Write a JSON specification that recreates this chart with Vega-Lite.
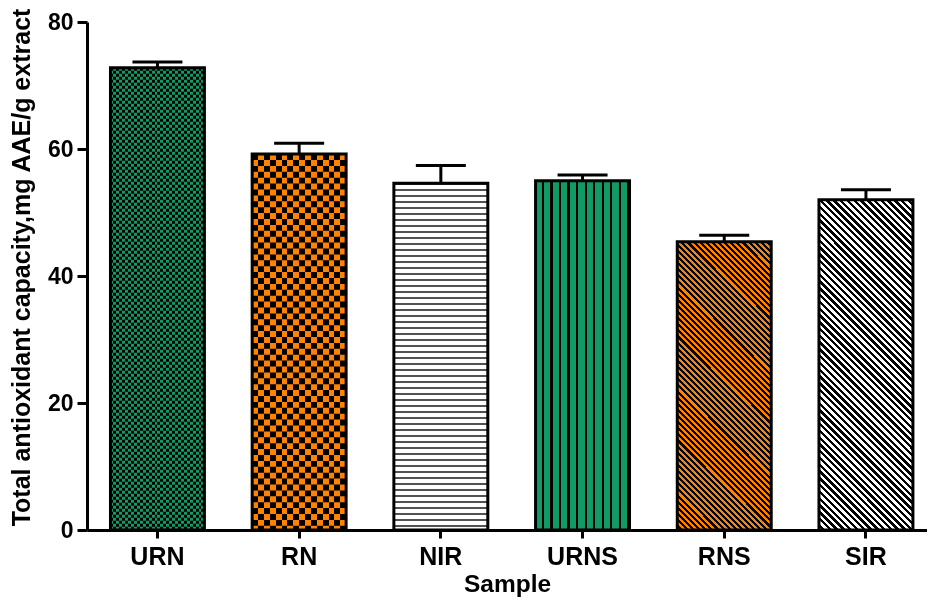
{
"$schema": "https://vega.github.io/schema/vega-lite/v6.json",
"width": 840, "height": 508,
"autosize": {"type": "none"},
"padding": {"left": 87, "top": 22, "right": 0, "bottom": 67},
"background": "white",
"config": {"view": {"stroke": null}, "font": "Liberation Sans"},
"data": {"values": [
{"sample": "URN", "mean": 72.8, "upper": 73.7},
{"sample": "RN", "mean": 59.2, "upper": 60.9},
{"sample": "NIR", "mean": 54.6, "upper": 57.4},
{"sample": "URNS", "mean": 55.0, "upper": 55.9},
{"sample": "RNS", "mean": 45.4, "upper": 46.4},
{"sample": "SIR", "mean": 52.0, "upper": 53.6}
]},
"encoding": {
"x": {"field": "sample", "type": "nominal", "sort": null, "title": "Sample",
 "scale": {"domain": ["URN", "RN", "NIR", "URNS", "RNS", "SIR"], "paddingInner": 0.337, "paddingOuter": 0.1325, "align": 0.625, "round": false},
 "axis": {"labelFont": "Liberation Sans", "labelFontSize": 25, "labelFontWeight": "bold", "labelColor": "black", "labelAngle": 0, "labelPadding": 6, "tickSize": 8, "tickWidth": 3, "tickColor": "black", "domainColor": "black", "domainWidth": 3, "titleFont": "Liberation Sans", "titleFontSize": 24.5, "titleFontWeight": "bold", "titleColor": "black", "titlePadding": 3, "grid": false}},
"y": {"field": "mean", "type": "quantitative", "title": "Total antioxidant capacity,mg AAE/g extract",
 "scale": {"domain": [0, 80], "nice": false},
 "axis": {"values": [0, 20, 40, 60, 80], "labelFont": "Liberation Sans", "labelFontSize": 23, "labelFontWeight": "bold", "labelColor": "black", "labelPadding": 4, "tickSize": 10, "tickWidth": 3, "tickColor": "black", "domainColor": "black", "domainWidth": 3, "titleFont": "Liberation Sans", "titleFontSize": 25, "titleFontWeight": "bold", "titleColor": "black", "titlePadding": 13, "titleY": 245, "grid": false}}
},
"layer": [
{"transform": [{"filter": "datum.sample === 'URN'"}],
 "mark": {"type": "bar", "fill": {"gradient": "linear", "x1": 0, "y1": 0, "x2": 1, "y2": 0, "stops": [
{"offset":0,"color":"#109a64"},{"offset":0.03125,"color":"#109a64"},{"offset":0.03125,"color":"#000"},{"offset":0.0625,"color":"#000"},
{"offset":0.0625,"color":"#109a64"},{"offset":0.09375,"color":"#109a64"},{"offset":0.09375,"color":"#000"},{"offset":0.125,"color":"#000"},
{"offset":0.125,"color":"#109a64"},{"offset":0.15625,"color":"#109a64"},{"offset":0.15625,"color":"#000"},{"offset":0.1875,"color":"#000"},
{"offset":0.1875,"color":"#109a64"},{"offset":0.21875,"color":"#109a64"},{"offset":0.21875,"color":"#000"},{"offset":0.25,"color":"#000"},
{"offset":0.25,"color":"#109a64"},{"offset":0.28125,"color":"#109a64"},{"offset":0.28125,"color":"#000"},{"offset":0.3125,"color":"#000"},
{"offset":0.3125,"color":"#109a64"},{"offset":0.34375,"color":"#109a64"},{"offset":0.34375,"color":"#000"},{"offset":0.375,"color":"#000"},
{"offset":0.375,"color":"#109a64"},{"offset":0.40625,"color":"#109a64"},{"offset":0.40625,"color":"#000"},{"offset":0.4375,"color":"#000"},
{"offset":0.4375,"color":"#109a64"},{"offset":0.46875,"color":"#109a64"},{"offset":0.46875,"color":"#000"},{"offset":0.5,"color":"#000"},
{"offset":0.5,"color":"#109a64"},{"offset":0.53125,"color":"#109a64"},{"offset":0.53125,"color":"#000"},{"offset":0.5625,"color":"#000"},
{"offset":0.5625,"color":"#109a64"},{"offset":0.59375,"color":"#109a64"},{"offset":0.59375,"color":"#000"},{"offset":0.625,"color":"#000"},
{"offset":0.625,"color":"#109a64"},{"offset":0.65625,"color":"#109a64"},{"offset":0.65625,"color":"#000"},{"offset":0.6875,"color":"#000"},
{"offset":0.6875,"color":"#109a64"},{"offset":0.71875,"color":"#109a64"},{"offset":0.71875,"color":"#000"},{"offset":0.75,"color":"#000"},
{"offset":0.75,"color":"#109a64"},{"offset":0.78125,"color":"#109a64"},{"offset":0.78125,"color":"#000"},{"offset":0.8125,"color":"#000"},
{"offset":0.8125,"color":"#109a64"},{"offset":0.84375,"color":"#109a64"},{"offset":0.84375,"color":"#000"},{"offset":0.875,"color":"#000"},
{"offset":0.875,"color":"#109a64"},{"offset":0.90625,"color":"#109a64"},{"offset":0.90625,"color":"#000"},{"offset":0.9375,"color":"#000"},
{"offset":0.9375,"color":"#109a64"},{"offset":0.96875,"color":"#109a64"},{"offset":0.96875,"color":"#000"},{"offset":1,"color":"#000"}
 ]}}},
{"transform": [{"filter": "datum.sample === 'URN'"}],
 "mark": {"type": "rule", "stroke": "#109a64", "strokeWidth": 94, "strokeDash": [3, 3], "blend": "difference"},
 "encoding": {"y2": {"datum": 0}}},
{"transform": [{"filter": "datum.sample === 'RN'"}],
 "mark": {"type": "bar", "fill": {"gradient": "linear", "x1": 0, "y1": 0, "x2": 1, "y2": 0, "stops": [
{"offset":0,"color":"#ff8200"},{"offset":0.0625,"color":"#ff8200"},{"offset":0.0625,"color":"#000"},{"offset":0.125,"color":"#000"},
{"offset":0.125,"color":"#ff8200"},{"offset":0.1875,"color":"#ff8200"},{"offset":0.1875,"color":"#000"},{"offset":0.25,"color":"#000"},
{"offset":0.25,"color":"#ff8200"},{"offset":0.3125,"color":"#ff8200"},{"offset":0.3125,"color":"#000"},{"offset":0.375,"color":"#000"},
{"offset":0.375,"color":"#ff8200"},{"offset":0.4375,"color":"#ff8200"},{"offset":0.4375,"color":"#000"},{"offset":0.5,"color":"#000"},
{"offset":0.5,"color":"#ff8200"},{"offset":0.5625,"color":"#ff8200"},{"offset":0.5625,"color":"#000"},{"offset":0.625,"color":"#000"},
{"offset":0.625,"color":"#ff8200"},{"offset":0.6875,"color":"#ff8200"},{"offset":0.6875,"color":"#000"},{"offset":0.75,"color":"#000"},
{"offset":0.75,"color":"#ff8200"},{"offset":0.8125,"color":"#ff8200"},{"offset":0.8125,"color":"#000"},{"offset":0.875,"color":"#000"},
{"offset":0.875,"color":"#ff8200"},{"offset":0.9375,"color":"#ff8200"},{"offset":0.9375,"color":"#000"},{"offset":1,"color":"#000"}
 ]}}},
{"transform": [{"filter": "datum.sample === 'RN'"}],
 "mark": {"type": "rule", "stroke": "#ff8200", "strokeWidth": 94, "strokeDash": [5.9, 5.9], "blend": "difference"},
 "encoding": {"y2": {"datum": 0}}},
{"transform": [{"filter": "datum.sample === 'NIR'"}],
 "mark": {"type": "bar", "fill": "white"}},
{"transform": [{"filter": "datum.sample === 'NIR'"}],
 "mark": {"type": "rule", "stroke": "#1a1a1a", "strokeWidth": 94, "strokeDash": [1.5, 4.5]},
 "encoding": {"y2": {"datum": 0}}},
{"transform": [{"filter": "datum.sample === 'URNS'"}],
 "mark": {"type": "bar", "fill": {"gradient": "linear", "x1": 0, "y1": 0, "x2": 1, "y2": 0, "stops": [
{"offset":0,"color":"#109a64"},{"offset":0.0664,"color":"#109a64"},{"offset":0.0664,"color":"#000"},{"offset":0.0909,"color":"#000"},
{"offset":0.0909,"color":"#109a64"},{"offset":0.1573,"color":"#109a64"},{"offset":0.1573,"color":"#000"},{"offset":0.1818,"color":"#000"},
{"offset":0.1818,"color":"#109a64"},{"offset":0.2482,"color":"#109a64"},{"offset":0.2482,"color":"#000"},{"offset":0.2727,"color":"#000"},
{"offset":0.2727,"color":"#109a64"},{"offset":0.3391,"color":"#109a64"},{"offset":0.3391,"color":"#000"},{"offset":0.3636,"color":"#000"},
{"offset":0.3636,"color":"#109a64"},{"offset":0.43,"color":"#109a64"},{"offset":0.43,"color":"#000"},{"offset":0.4545,"color":"#000"},
{"offset":0.4545,"color":"#109a64"},{"offset":0.5209,"color":"#109a64"},{"offset":0.5209,"color":"#000"},{"offset":0.5455,"color":"#000"},
{"offset":0.5455,"color":"#109a64"},{"offset":0.6119,"color":"#109a64"},{"offset":0.6119,"color":"#000"},{"offset":0.6364,"color":"#000"},
{"offset":0.6364,"color":"#109a64"},{"offset":0.7028,"color":"#109a64"},{"offset":0.7028,"color":"#000"},{"offset":0.7273,"color":"#000"},
{"offset":0.7273,"color":"#109a64"},{"offset":0.7937,"color":"#109a64"},{"offset":0.7937,"color":"#000"},{"offset":0.8182,"color":"#000"},
{"offset":0.8182,"color":"#109a64"},{"offset":0.8846,"color":"#109a64"},{"offset":0.8846,"color":"#000"},{"offset":0.9091,"color":"#000"},
{"offset":0.9091,"color":"#109a64"},{"offset":0.9755,"color":"#109a64"},{"offset":0.9755,"color":"#000"},{"offset":1,"color":"#000"}
 ]}}},
{"transform": [{"filter": "datum.sample === 'RNS'"}],
 "mark": {"type": "bar", "fill": {"gradient": "linear", "x1": 0, "y1": 1, "x2": 0.3912, "y2": -0.1987, "stops": [
{"offset":0,"color":"#ff8200"},{"offset":0.008,"color":"#ff8200"},{"offset":0.008,"color":"#000"},{"offset":0.016,"color":"#000"},
{"offset":0.016,"color":"#ff8200"},{"offset":0.024,"color":"#ff8200"},{"offset":0.024,"color":"#000"},{"offset":0.032,"color":"#000"},
{"offset":0.032,"color":"#ff8200"},{"offset":0.04,"color":"#ff8200"},{"offset":0.04,"color":"#000"},{"offset":0.048,"color":"#000"},
{"offset":0.048,"color":"#ff8200"},{"offset":0.056,"color":"#ff8200"},{"offset":0.056,"color":"#000"},{"offset":0.064,"color":"#000"},
{"offset":0.064,"color":"#ff8200"},{"offset":0.072,"color":"#ff8200"},{"offset":0.072,"color":"#000"},{"offset":0.08,"color":"#000"},
{"offset":0.08,"color":"#ff8200"},{"offset":0.088,"color":"#ff8200"},{"offset":0.088,"color":"#000"},{"offset":0.096,"color":"#000"},
{"offset":0.096,"color":"#ff8200"},{"offset":0.104,"color":"#ff8200"},{"offset":0.104,"color":"#000"},{"offset":0.112,"color":"#000"},
{"offset":0.112,"color":"#ff8200"},{"offset":0.12,"color":"#ff8200"},{"offset":0.12,"color":"#000"},{"offset":0.128,"color":"#000"},
{"offset":0.128,"color":"#ff8200"},{"offset":0.136,"color":"#ff8200"},{"offset":0.136,"color":"#000"},{"offset":0.144,"color":"#000"},
{"offset":0.144,"color":"#ff8200"},{"offset":0.152,"color":"#ff8200"},{"offset":0.152,"color":"#000"},{"offset":0.16,"color":"#000"},
{"offset":0.16,"color":"#ff8200"},{"offset":0.168,"color":"#ff8200"},{"offset":0.168,"color":"#000"},{"offset":0.176,"color":"#000"},
{"offset":0.176,"color":"#ff8200"},{"offset":0.184,"color":"#ff8200"},{"offset":0.184,"color":"#000"},{"offset":0.192,"color":"#000"},
{"offset":0.192,"color":"#ff8200"},{"offset":0.2,"color":"#ff8200"},{"offset":0.2,"color":"#000"},{"offset":0.208,"color":"#000"},
{"offset":0.208,"color":"#ff8200"},{"offset":0.216,"color":"#ff8200"},{"offset":0.216,"color":"#000"},{"offset":0.224,"color":"#000"},
{"offset":0.224,"color":"#ff8200"},{"offset":0.232,"color":"#ff8200"},{"offset":0.232,"color":"#000"},{"offset":0.24,"color":"#000"},
{"offset":0.24,"color":"#ff8200"},{"offset":0.248,"color":"#ff8200"},{"offset":0.248,"color":"#000"},{"offset":0.256,"color":"#000"},
{"offset":0.256,"color":"#ff8200"},{"offset":0.264,"color":"#ff8200"},{"offset":0.264,"color":"#000"},{"offset":0.272,"color":"#000"},
{"offset":0.272,"color":"#ff8200"},{"offset":0.28,"color":"#ff8200"},{"offset":0.28,"color":"#000"},{"offset":0.288,"color":"#000"},
{"offset":0.288,"color":"#ff8200"},{"offset":0.296,"color":"#ff8200"},{"offset":0.296,"color":"#000"},{"offset":0.304,"color":"#000"},
{"offset":0.304,"color":"#ff8200"},{"offset":0.312,"color":"#ff8200"},{"offset":0.312,"color":"#000"},{"offset":0.32,"color":"#000"},
{"offset":0.32,"color":"#ff8200"},{"offset":0.328,"color":"#ff8200"},{"offset":0.328,"color":"#000"},{"offset":0.336,"color":"#000"},
{"offset":0.336,"color":"#ff8200"},{"offset":0.344,"color":"#ff8200"},{"offset":0.344,"color":"#000"},{"offset":0.352,"color":"#000"},
{"offset":0.352,"color":"#ff8200"},{"offset":0.36,"color":"#ff8200"},{"offset":0.36,"color":"#000"},{"offset":0.368,"color":"#000"},
{"offset":0.368,"color":"#ff8200"},{"offset":0.376,"color":"#ff8200"},{"offset":0.376,"color":"#000"},{"offset":0.384,"color":"#000"},
{"offset":0.384,"color":"#ff8200"},{"offset":0.392,"color":"#ff8200"},{"offset":0.392,"color":"#000"},{"offset":0.4,"color":"#000"},
{"offset":0.4,"color":"#ff8200"},{"offset":0.408,"color":"#ff8200"},{"offset":0.408,"color":"#000"},{"offset":0.416,"color":"#000"},
{"offset":0.416,"color":"#ff8200"},{"offset":0.424,"color":"#ff8200"},{"offset":0.424,"color":"#000"},{"offset":0.432,"color":"#000"},
{"offset":0.432,"color":"#ff8200"},{"offset":0.44,"color":"#ff8200"},{"offset":0.44,"color":"#000"},{"offset":0.448,"color":"#000"},
{"offset":0.448,"color":"#ff8200"},{"offset":0.456,"color":"#ff8200"},{"offset":0.456,"color":"#000"},{"offset":0.464,"color":"#000"},
{"offset":0.464,"color":"#ff8200"},{"offset":0.472,"color":"#ff8200"},{"offset":0.472,"color":"#000"},{"offset":0.48,"color":"#000"},
{"offset":0.48,"color":"#ff8200"},{"offset":0.488,"color":"#ff8200"},{"offset":0.488,"color":"#000"},{"offset":0.496,"color":"#000"},
{"offset":0.496,"color":"#ff8200"},{"offset":0.504,"color":"#ff8200"},{"offset":0.504,"color":"#000"},{"offset":0.512,"color":"#000"},
{"offset":0.512,"color":"#ff8200"},{"offset":0.52,"color":"#ff8200"},{"offset":0.52,"color":"#000"},{"offset":0.528,"color":"#000"},
{"offset":0.528,"color":"#ff8200"},{"offset":0.536,"color":"#ff8200"},{"offset":0.536,"color":"#000"},{"offset":0.544,"color":"#000"},
{"offset":0.544,"color":"#ff8200"},{"offset":0.552,"color":"#ff8200"},{"offset":0.552,"color":"#000"},{"offset":0.56,"color":"#000"},
{"offset":0.56,"color":"#ff8200"},{"offset":0.568,"color":"#ff8200"},{"offset":0.568,"color":"#000"},{"offset":0.576,"color":"#000"},
{"offset":0.576,"color":"#ff8200"},{"offset":0.584,"color":"#ff8200"},{"offset":0.584,"color":"#000"},{"offset":0.592,"color":"#000"},
{"offset":0.592,"color":"#ff8200"},{"offset":0.6,"color":"#ff8200"},{"offset":0.6,"color":"#000"},{"offset":0.608,"color":"#000"},
{"offset":0.608,"color":"#ff8200"},{"offset":0.616,"color":"#ff8200"},{"offset":0.616,"color":"#000"},{"offset":0.624,"color":"#000"},
{"offset":0.624,"color":"#ff8200"},{"offset":0.632,"color":"#ff8200"},{"offset":0.632,"color":"#000"},{"offset":0.64,"color":"#000"},
{"offset":0.64,"color":"#ff8200"},{"offset":0.648,"color":"#ff8200"},{"offset":0.648,"color":"#000"},{"offset":0.656,"color":"#000"},
{"offset":0.656,"color":"#ff8200"},{"offset":0.664,"color":"#ff8200"},{"offset":0.664,"color":"#000"},{"offset":0.672,"color":"#000"},
{"offset":0.672,"color":"#ff8200"},{"offset":0.68,"color":"#ff8200"},{"offset":0.68,"color":"#000"},{"offset":0.688,"color":"#000"},
{"offset":0.688,"color":"#ff8200"},{"offset":0.696,"color":"#ff8200"},{"offset":0.696,"color":"#000"},{"offset":0.704,"color":"#000"},
{"offset":0.704,"color":"#ff8200"},{"offset":0.712,"color":"#ff8200"},{"offset":0.712,"color":"#000"},{"offset":0.72,"color":"#000"},
{"offset":0.72,"color":"#ff8200"},{"offset":0.728,"color":"#ff8200"},{"offset":0.728,"color":"#000"},{"offset":0.736,"color":"#000"},
{"offset":0.736,"color":"#ff8200"},{"offset":0.744,"color":"#ff8200"},{"offset":0.744,"color":"#000"},{"offset":0.752,"color":"#000"},
{"offset":0.752,"color":"#ff8200"},{"offset":0.76,"color":"#ff8200"},{"offset":0.76,"color":"#000"},{"offset":0.768,"color":"#000"},
{"offset":0.768,"color":"#ff8200"},{"offset":0.776,"color":"#ff8200"},{"offset":0.776,"color":"#000"},{"offset":0.784,"color":"#000"},
{"offset":0.784,"color":"#ff8200"},{"offset":0.792,"color":"#ff8200"},{"offset":0.792,"color":"#000"},{"offset":0.8,"color":"#000"},
{"offset":0.8,"color":"#ff8200"},{"offset":0.808,"color":"#ff8200"},{"offset":0.808,"color":"#000"},{"offset":0.816,"color":"#000"},
{"offset":0.816,"color":"#ff8200"},{"offset":0.824,"color":"#ff8200"},{"offset":0.824,"color":"#000"},{"offset":0.832,"color":"#000"},
{"offset":0.832,"color":"#ff8200"},{"offset":0.84,"color":"#ff8200"},{"offset":0.84,"color":"#000"},{"offset":0.848,"color":"#000"},
{"offset":0.848,"color":"#ff8200"},{"offset":0.856,"color":"#ff8200"},{"offset":0.856,"color":"#000"},{"offset":0.864,"color":"#000"},
{"offset":0.864,"color":"#ff8200"},{"offset":0.872,"color":"#ff8200"},{"offset":0.872,"color":"#000"},{"offset":0.88,"color":"#000"},
{"offset":0.88,"color":"#ff8200"},{"offset":0.888,"color":"#ff8200"},{"offset":0.888,"color":"#000"},{"offset":0.896,"color":"#000"},
{"offset":0.896,"color":"#ff8200"},{"offset":0.904,"color":"#ff8200"},{"offset":0.904,"color":"#000"},{"offset":0.912,"color":"#000"},
{"offset":0.912,"color":"#ff8200"},{"offset":0.92,"color":"#ff8200"},{"offset":0.92,"color":"#000"},{"offset":0.928,"color":"#000"},
{"offset":0.928,"color":"#ff8200"},{"offset":0.936,"color":"#ff8200"},{"offset":0.936,"color":"#000"},{"offset":0.944,"color":"#000"},
{"offset":0.944,"color":"#ff8200"},{"offset":0.952,"color":"#ff8200"},{"offset":0.952,"color":"#000"},{"offset":0.96,"color":"#000"},
{"offset":0.96,"color":"#ff8200"},{"offset":0.968,"color":"#ff8200"},{"offset":0.968,"color":"#000"},{"offset":0.976,"color":"#000"},
{"offset":0.976,"color":"#ff8200"},{"offset":0.984,"color":"#ff8200"},{"offset":0.984,"color":"#000"},{"offset":0.992,"color":"#000"},
{"offset":0.992,"color":"#ff8200"},{"offset":1,"color":"#ff8200"}
 ]}}},
{"transform": [{"filter": "datum.sample === 'SIR'"}],
 "mark": {"type": "bar", "fill": {"gradient": "linear", "x1": 0, "y1": 1, "x2": 0.3383, "y2": -0.1884, "stops": [
{"offset":0,"color":"#fff"},{"offset":0.008,"color":"#fff"},{"offset":0.008,"color":"#000"},{"offset":0.016,"color":"#000"},
{"offset":0.016,"color":"#fff"},{"offset":0.024,"color":"#fff"},{"offset":0.024,"color":"#000"},{"offset":0.032,"color":"#000"},
{"offset":0.032,"color":"#fff"},{"offset":0.04,"color":"#fff"},{"offset":0.04,"color":"#000"},{"offset":0.048,"color":"#000"},
{"offset":0.048,"color":"#fff"},{"offset":0.056,"color":"#fff"},{"offset":0.056,"color":"#000"},{"offset":0.064,"color":"#000"},
{"offset":0.064,"color":"#fff"},{"offset":0.072,"color":"#fff"},{"offset":0.072,"color":"#000"},{"offset":0.08,"color":"#000"},
{"offset":0.08,"color":"#fff"},{"offset":0.088,"color":"#fff"},{"offset":0.088,"color":"#000"},{"offset":0.096,"color":"#000"},
{"offset":0.096,"color":"#fff"},{"offset":0.104,"color":"#fff"},{"offset":0.104,"color":"#000"},{"offset":0.112,"color":"#000"},
{"offset":0.112,"color":"#fff"},{"offset":0.12,"color":"#fff"},{"offset":0.12,"color":"#000"},{"offset":0.128,"color":"#000"},
{"offset":0.128,"color":"#fff"},{"offset":0.136,"color":"#fff"},{"offset":0.136,"color":"#000"},{"offset":0.144,"color":"#000"},
{"offset":0.144,"color":"#fff"},{"offset":0.152,"color":"#fff"},{"offset":0.152,"color":"#000"},{"offset":0.16,"color":"#000"},
{"offset":0.16,"color":"#fff"},{"offset":0.168,"color":"#fff"},{"offset":0.168,"color":"#000"},{"offset":0.176,"color":"#000"},
{"offset":0.176,"color":"#fff"},{"offset":0.184,"color":"#fff"},{"offset":0.184,"color":"#000"},{"offset":0.192,"color":"#000"},
{"offset":0.192,"color":"#fff"},{"offset":0.2,"color":"#fff"},{"offset":0.2,"color":"#000"},{"offset":0.208,"color":"#000"},
{"offset":0.208,"color":"#fff"},{"offset":0.216,"color":"#fff"},{"offset":0.216,"color":"#000"},{"offset":0.224,"color":"#000"},
{"offset":0.224,"color":"#fff"},{"offset":0.232,"color":"#fff"},{"offset":0.232,"color":"#000"},{"offset":0.24,"color":"#000"},
{"offset":0.24,"color":"#fff"},{"offset":0.248,"color":"#fff"},{"offset":0.248,"color":"#000"},{"offset":0.256,"color":"#000"},
{"offset":0.256,"color":"#fff"},{"offset":0.264,"color":"#fff"},{"offset":0.264,"color":"#000"},{"offset":0.272,"color":"#000"},
{"offset":0.272,"color":"#fff"},{"offset":0.28,"color":"#fff"},{"offset":0.28,"color":"#000"},{"offset":0.288,"color":"#000"},
{"offset":0.288,"color":"#fff"},{"offset":0.296,"color":"#fff"},{"offset":0.296,"color":"#000"},{"offset":0.304,"color":"#000"},
{"offset":0.304,"color":"#fff"},{"offset":0.312,"color":"#fff"},{"offset":0.312,"color":"#000"},{"offset":0.32,"color":"#000"},
{"offset":0.32,"color":"#fff"},{"offset":0.328,"color":"#fff"},{"offset":0.328,"color":"#000"},{"offset":0.336,"color":"#000"},
{"offset":0.336,"color":"#fff"},{"offset":0.344,"color":"#fff"},{"offset":0.344,"color":"#000"},{"offset":0.352,"color":"#000"},
{"offset":0.352,"color":"#fff"},{"offset":0.36,"color":"#fff"},{"offset":0.36,"color":"#000"},{"offset":0.368,"color":"#000"},
{"offset":0.368,"color":"#fff"},{"offset":0.376,"color":"#fff"},{"offset":0.376,"color":"#000"},{"offset":0.384,"color":"#000"},
{"offset":0.384,"color":"#fff"},{"offset":0.392,"color":"#fff"},{"offset":0.392,"color":"#000"},{"offset":0.4,"color":"#000"},
{"offset":0.4,"color":"#fff"},{"offset":0.408,"color":"#fff"},{"offset":0.408,"color":"#000"},{"offset":0.416,"color":"#000"},
{"offset":0.416,"color":"#fff"},{"offset":0.424,"color":"#fff"},{"offset":0.424,"color":"#000"},{"offset":0.432,"color":"#000"},
{"offset":0.432,"color":"#fff"},{"offset":0.44,"color":"#fff"},{"offset":0.44,"color":"#000"},{"offset":0.448,"color":"#000"},
{"offset":0.448,"color":"#fff"},{"offset":0.456,"color":"#fff"},{"offset":0.456,"color":"#000"},{"offset":0.464,"color":"#000"},
{"offset":0.464,"color":"#fff"},{"offset":0.472,"color":"#fff"},{"offset":0.472,"color":"#000"},{"offset":0.48,"color":"#000"},
{"offset":0.48,"color":"#fff"},{"offset":0.488,"color":"#fff"},{"offset":0.488,"color":"#000"},{"offset":0.496,"color":"#000"},
{"offset":0.496,"color":"#fff"},{"offset":0.504,"color":"#fff"},{"offset":0.504,"color":"#000"},{"offset":0.512,"color":"#000"},
{"offset":0.512,"color":"#fff"},{"offset":0.52,"color":"#fff"},{"offset":0.52,"color":"#000"},{"offset":0.528,"color":"#000"},
{"offset":0.528,"color":"#fff"},{"offset":0.536,"color":"#fff"},{"offset":0.536,"color":"#000"},{"offset":0.544,"color":"#000"},
{"offset":0.544,"color":"#fff"},{"offset":0.552,"color":"#fff"},{"offset":0.552,"color":"#000"},{"offset":0.56,"color":"#000"},
{"offset":0.56,"color":"#fff"},{"offset":0.568,"color":"#fff"},{"offset":0.568,"color":"#000"},{"offset":0.576,"color":"#000"},
{"offset":0.576,"color":"#fff"},{"offset":0.584,"color":"#fff"},{"offset":0.584,"color":"#000"},{"offset":0.592,"color":"#000"},
{"offset":0.592,"color":"#fff"},{"offset":0.6,"color":"#fff"},{"offset":0.6,"color":"#000"},{"offset":0.608,"color":"#000"},
{"offset":0.608,"color":"#fff"},{"offset":0.616,"color":"#fff"},{"offset":0.616,"color":"#000"},{"offset":0.624,"color":"#000"},
{"offset":0.624,"color":"#fff"},{"offset":0.632,"color":"#fff"},{"offset":0.632,"color":"#000"},{"offset":0.64,"color":"#000"},
{"offset":0.64,"color":"#fff"},{"offset":0.648,"color":"#fff"},{"offset":0.648,"color":"#000"},{"offset":0.656,"color":"#000"},
{"offset":0.656,"color":"#fff"},{"offset":0.664,"color":"#fff"},{"offset":0.664,"color":"#000"},{"offset":0.672,"color":"#000"},
{"offset":0.672,"color":"#fff"},{"offset":0.68,"color":"#fff"},{"offset":0.68,"color":"#000"},{"offset":0.688,"color":"#000"},
{"offset":0.688,"color":"#fff"},{"offset":0.696,"color":"#fff"},{"offset":0.696,"color":"#000"},{"offset":0.704,"color":"#000"},
{"offset":0.704,"color":"#fff"},{"offset":0.712,"color":"#fff"},{"offset":0.712,"color":"#000"},{"offset":0.72,"color":"#000"},
{"offset":0.72,"color":"#fff"},{"offset":0.728,"color":"#fff"},{"offset":0.728,"color":"#000"},{"offset":0.736,"color":"#000"},
{"offset":0.736,"color":"#fff"},{"offset":0.744,"color":"#fff"},{"offset":0.744,"color":"#000"},{"offset":0.752,"color":"#000"},
{"offset":0.752,"color":"#fff"},{"offset":0.76,"color":"#fff"},{"offset":0.76,"color":"#000"},{"offset":0.768,"color":"#000"},
{"offset":0.768,"color":"#fff"},{"offset":0.776,"color":"#fff"},{"offset":0.776,"color":"#000"},{"offset":0.784,"color":"#000"},
{"offset":0.784,"color":"#fff"},{"offset":0.792,"color":"#fff"},{"offset":0.792,"color":"#000"},{"offset":0.8,"color":"#000"},
{"offset":0.8,"color":"#fff"},{"offset":0.808,"color":"#fff"},{"offset":0.808,"color":"#000"},{"offset":0.816,"color":"#000"},
{"offset":0.816,"color":"#fff"},{"offset":0.824,"color":"#fff"},{"offset":0.824,"color":"#000"},{"offset":0.832,"color":"#000"},
{"offset":0.832,"color":"#fff"},{"offset":0.84,"color":"#fff"},{"offset":0.84,"color":"#000"},{"offset":0.848,"color":"#000"},
{"offset":0.848,"color":"#fff"},{"offset":0.856,"color":"#fff"},{"offset":0.856,"color":"#000"},{"offset":0.864,"color":"#000"},
{"offset":0.864,"color":"#fff"},{"offset":0.872,"color":"#fff"},{"offset":0.872,"color":"#000"},{"offset":0.88,"color":"#000"},
{"offset":0.88,"color":"#fff"},{"offset":0.888,"color":"#fff"},{"offset":0.888,"color":"#000"},{"offset":0.896,"color":"#000"},
{"offset":0.896,"color":"#fff"},{"offset":0.904,"color":"#fff"},{"offset":0.904,"color":"#000"},{"offset":0.912,"color":"#000"},
{"offset":0.912,"color":"#fff"},{"offset":0.92,"color":"#fff"},{"offset":0.92,"color":"#000"},{"offset":0.928,"color":"#000"},
{"offset":0.928,"color":"#fff"},{"offset":0.936,"color":"#fff"},{"offset":0.936,"color":"#000"},{"offset":0.944,"color":"#000"},
{"offset":0.944,"color":"#fff"},{"offset":0.952,"color":"#fff"},{"offset":0.952,"color":"#000"},{"offset":0.96,"color":"#000"},
{"offset":0.96,"color":"#fff"},{"offset":0.968,"color":"#fff"},{"offset":0.968,"color":"#000"},{"offset":0.976,"color":"#000"},
{"offset":0.976,"color":"#fff"},{"offset":0.984,"color":"#fff"},{"offset":0.984,"color":"#000"},{"offset":0.992,"color":"#000"},
{"offset":0.992,"color":"#fff"},{"offset":1,"color":"#fff"}
 ]}}},
{"mark": {"type": "bar", "fillOpacity": 0, "stroke": "black", "strokeWidth": 3}},
{"mark": {"type": "rule", "color": "black", "strokeWidth": 3},
 "encoding": {"y2": {"field": "upper"}}},
{"mark": {"type": "tick", "color": "black", "thickness": 3, "size": 50, "opacity": 1},
 "encoding": {"y": {"field": "upper", "type": "quantitative", "title": "Total antioxidant capacity,mg AAE/g extract"}}}
]
}
